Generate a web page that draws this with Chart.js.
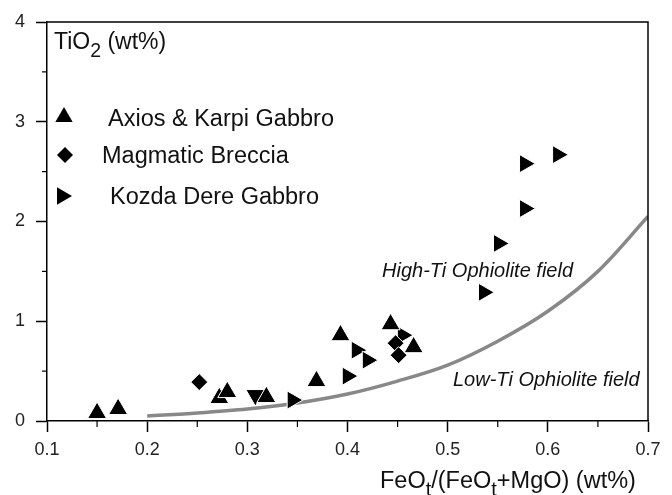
<!DOCTYPE html>
<html>
<head>
<meta charset="utf-8">
<script src="https://cdn.jsdelivr.net/npm/chart.js@4.4.1/dist/chart.umd.min.js"></script>
<style>
  body { margin: 0; background: #fff; }
  #wrap { width: 672px; height: 495px; }
</style>
</head>
<body>
<div id="wrap"><canvas id="myChart" width="672" height="495"></canvas></div>
<script>
// Axios & Karpi Gabbro (up triangles)
const axiosX = [0.150, 0.171, 0.272, 0.280, 0.319, 0.369, 0.393, 0.443, 0.466];
const axiosY = [0.08, 0.12, 0.23, 0.29, 0.24, 0.40, 0.86, 0.97, 0.74];
// single inverted triangle, not in the legend
const invertedX = [0.308];
const invertedY = [0.26];
// Magmatic Breccia (diamonds)
const brecciaX = [0.252, 0.448, 0.451];
const brecciaY = [0.39, 0.78, 0.66];
// Kozda Dere Gabbro (right triangles)
const kozdaX = [0.345, 0.400, 0.409, 0.420, 0.455, 0.536, 0.551, 0.577, 0.577, 0.610];
const kozdaY = [0.21, 0.45, 0.71, 0.61, 0.86, 1.29, 1.78, 2.13, 2.58, 2.67];
// High-Ti / Low-Ti boundary curve
const curveX = [0.20, 0.25, 0.30, 0.35, 0.40, 0.45, 0.50, 0.55, 0.60, 0.65, 0.70];
const curveY = [0.05, 0.08, 0.12, 0.18, 0.27, 0.40, 0.56, 0.80, 1.10, 1.50, 2.05];

const xTicks = [0.1, 0.2, 0.3, 0.4, 0.5, 0.6, 0.7];
const yTicks = [0, 1, 2, 3, 4];

function toPoints(xs, ys) {
  return xs.map((x, i) => ({ x: x, y: ys[i] }));
}

const FONT = "'Liberation Sans', Arial, sans-serif";

function drawMarker(ctx, style, x, y, r, rot) {
  ctx.save();
  ctx.translate(x, y);
  ctx.rotate(rot * Math.PI / 180);
  ctx.beginPath();
  if (style === "triangle") {
    ctx.moveTo(0, -r);
    ctx.lineTo(r * 0.866, r * 0.5);
    ctx.lineTo(-r * 0.866, r * 0.5);
  } else {
    ctx.moveTo(0, -r);
    ctx.lineTo(r, 0);
    ctx.lineTo(0, r);
    ctx.lineTo(-r, 0);
  }
  ctx.closePath();
  ctx.fillStyle = "#000";
  ctx.fill();
  ctx.restore();
}

// text with subscript pieces: parts = [[text, isSub], ...]
function drawRich(ctx, parts, x, y, size) {
  let cx = x;
  parts.forEach(([txt, sub]) => {
    ctx.font = (sub ? size * 0.85 : size) + "px " + FONT;
    ctx.fillText(txt, cx, sub ? y + size * 0.36 : y);
    cx += ctx.measureText(txt).width;
  });
}

const extras = {
  id: "extras",
  afterDraw(chart) {
    const ctx = chart.ctx;
    const a = chart.chartArea;
    const xs = chart.scales.x;
    const ys = chart.scales.y;
    ctx.save();
    // top and right frame
    ctx.strokeStyle = "#000";
    ctx.lineWidth = 1.5;
    ctx.beginPath();
    ctx.moveTo(a.left, a.top);
    ctx.lineTo(a.right, a.top);
    ctx.lineTo(a.right, a.bottom);
    ctx.stroke();
    // minor ticks
    ctx.lineWidth = 1.2;
    for (let v = 0.15; v < 0.7; v += 0.1) {
      const px = xs.getPixelForValue(v);
      ctx.beginPath();
      ctx.moveTo(px, a.bottom);
      ctx.lineTo(px, a.bottom + 6);
      ctx.stroke();
    }
    for (let v = 0.5; v < 4; v += 1) {
      const py = ys.getPixelForValue(v);
      ctx.beginPath();
      ctx.moveTo(a.left, py);
      ctx.lineTo(a.left - 5, py);
      ctx.stroke();
    }
    // axis titles
    ctx.fillStyle = "#111";
    ctx.textBaseline = "middle";
    ctx.textAlign = "left";
    drawRich(ctx, [["TiO", false], ["2", true], [" (wt%)", false]], 54, 43, 23);
    drawRich(ctx, [["FeO", false], ["t", true], ["/(FeO", false], ["t", true], ["+MgO) (wt%)", false]], 380, 482, 23.5);
    // field labels
    ctx.font = "italic 20px " + FONT;
    ctx.fillText("High-Ti Ophiolite field", 382, 271);
    ctx.fillText("Low-Ti Ophiolite field", 453, 380);
    // legend
    const legend = [
      ["triangle", 0, chart.data.datasets[0].label, 64, 117, 108, 120],
      ["diamond", 0, chart.data.datasets[2].label, 65, 155, 102, 157],
      ["triangle", 90, chart.data.datasets[3].label, 62, 196, 110, 198]
    ];
    legend.forEach(([st, rot, label, mx, my, tx, ty]) => {
      drawMarker(ctx, st, mx, my, st === "diamond" ? 8 : 10, rot);
      ctx.fillStyle = "#111";
      ctx.font = "23.5px " + FONT;
      ctx.fillText(label, tx, ty);
    });
    ctx.restore();
  }
};

const markerBase = {
  showLine: false,
  backgroundColor: "#000",
  borderColor: "#fff",
  borderWidth: 1,
  pointHoverRadius: 10
};

const cfg = {
  type: "scatter",
  data: {
    datasets: [
      Object.assign({}, markerBase, {
        label: "Axios & Karpi Gabbro",
        data: toPoints(axiosX, axiosY),
        pointStyle: "triangle",
        pointRadius: 11
      }),
      Object.assign({}, markerBase, {
        label: "Axios & Karpi Gabbro (inverted)",
        data: toPoints(invertedX, invertedY),
        pointStyle: "triangle",
        rotation: 180,
        pointRadius: 11
      }),
      Object.assign({}, markerBase, {
        label: "Magmatic Breccia",
        data: toPoints(brecciaX, brecciaY),
        pointStyle: "rectRot",
        pointRadius: 8.5
      }),
      Object.assign({}, markerBase, {
        label: "Kozda Dere Gabbro",
        data: toPoints(kozdaX, kozdaY),
        pointStyle: "triangle",
        rotation: 90,
        pointRadius: 10.5
      }),
      {
        label: "Ophiolite boundary",
        data: toPoints(curveX, curveY),
        showLine: true,
        borderColor: "#888",
        borderWidth: 3.5,
        pointRadius: 0,
        cubicInterpolationMode: "monotone",
        fill: false,
        order: 10
      }
    ]
  },
  options: {
    responsive: false,
    animation: false,
    layout: { padding: { top: 22, right: 24, left: 0, bottom: 0 } },
    plugins: {
      legend: { display: false },
      title: { display: false },
      tooltip: { enabled: false }
    },
    scales: {
      x: {
        type: "linear",
        min: 0.1,
        max: 0.7,
        afterFit: (s) => { s.height = 74; },
        afterBuildTicks: (s) => { s.ticks = xTicks.map((v) => ({ value: v })); },
        ticks: {
          color: "#222",
          font: { family: FONT, size: 18 },
          padding: 7,
          maxRotation: 0,
          callback: (v) => v.toFixed(1)
        },
        grid: { drawOnChartArea: false, drawTicks: true, tickLength: 11, tickColor: "#000", tickWidth: 1.5 },
        border: { display: true, color: "#000", width: 1.5 }
      },
      y: {
        type: "linear",
        min: 0,
        max: 4,
        afterFit: (s) => { s.width = 47; },
        afterBuildTicks: (s) => { s.ticks = yTicks.map((v) => ({ value: v })); },
        ticks: {
          color: "#222",
          font: { family: FONT, size: 18 },
          padding: 11,
          callback: (v) => String(v)
        },
        grid: { drawOnChartArea: false, drawTicks: true, tickLength: 11, tickColor: "#000", tickWidth: 1.5 },
        border: { display: true, color: "#000", width: 1.5 }
      }
    }
  },
  plugins: [extras]
};

new Chart(document.getElementById("myChart"), cfg);
</script>
</body>
</html>
